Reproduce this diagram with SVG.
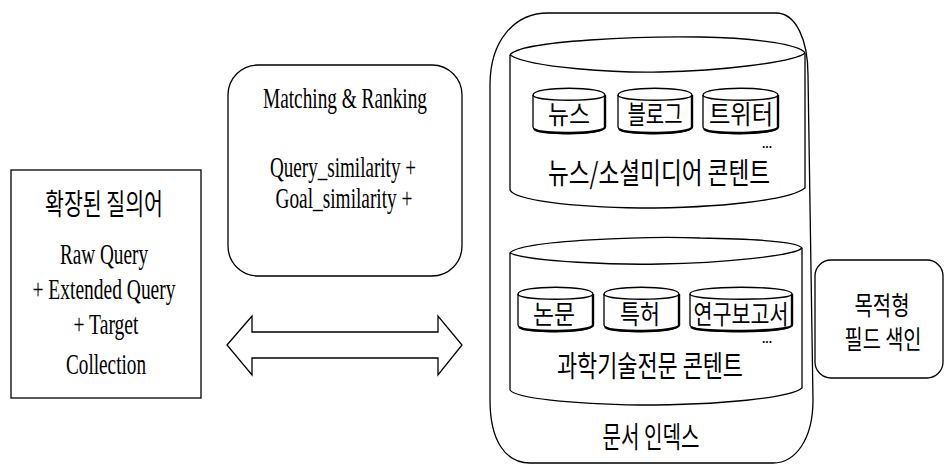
<svg xmlns="http://www.w3.org/2000/svg" width="945" height="464" viewBox="0 0 945 464">
  <style>
    .ln { fill: #ffffff; stroke: #000000; stroke-width: 1.3; }
    .nf { fill: none; stroke: #000000; stroke-width: 1.3; }
    .sh { fill: none; stroke: #000000; stroke-width: 2.4; }
    .en { font-family: "Liberation Serif", "Times New Roman", serif; font-size: 30px; fill: #000000; text-anchor: middle; }
    .ko { font-family: "Noto Sans CJK KR", "Noto Sans", sans-serif; font-size: 29px; fill: #000000; text-anchor: middle; }
    .ks { font-family: "Noto Sans CJK KR", "Noto Sans", sans-serif; font-size: 26px; fill: #000000; text-anchor: middle; }
    .dots { font-family: "Liberation Sans", Arial, sans-serif; font-size: 12px; font-weight: bold; fill: #000000; }
  </style>
  <rect x="0" y="0" width="945" height="464" fill="#ffffff"/>

  <!-- extended query box -->
  <g id="query">
    <rect class="ln" x="11" y="170" width="190" height="228"/>
    <text class="ko" x="104" y="215" font-size="31" textLength="118" lengthAdjust="spacingAndGlyphs">확장된 질의어</text>
    <text class="en" x="104" y="264" textLength="88" lengthAdjust="spacingAndGlyphs">Raw Query</text>
    <text class="en" x="104" y="299" textLength="143" lengthAdjust="spacingAndGlyphs">+ Extended Query</text>
    <text class="en" x="106" y="334" textLength="65" lengthAdjust="spacingAndGlyphs">+ Target</text>
    <text class="en" x="106" y="374" textLength="80" lengthAdjust="spacingAndGlyphs">Collection</text>
  </g>

  <!-- matching and ranking box -->
  <g id="matching">
    <rect class="ln" x="228" y="65" width="234" height="211" rx="30" ry="30"/>
    <text class="en" x="345" y="108" textLength="164" lengthAdjust="spacingAndGlyphs">Matching &amp; Ranking</text>
    <text class="en" x="343" y="177" textLength="146" lengthAdjust="spacingAndGlyphs">Query_similarity +</text>
    <text class="en" x="344" y="208" textLength="137" lengthAdjust="spacingAndGlyphs">Goal_similarity +</text>
  </g>

  <!-- connectors -->
  <g id="connectors">
    <path class="ln" d="M227,345 L252,316 L252,332 L438,332 L438,316 L462,345 L438,375 L438,358 L252,358 L252,375 Z"/>
  </g>

  <!-- document index container -->
  <g id="doc-index">
    <path class="ln" d="M548,13 L776,13 C796,13 808,40 808,75 L813,400 C813,440 795,463 773,463 L530,463 C505,463 490,440 490,400 L490,85 C490,40 515,13 548,13 Z"/>
    <text class="ko" x="651" y="448" textLength="97" lengthAdjust="spacingAndGlyphs">문서 인덱스</text>
  </g>

  <!-- news / social media store -->
  <g id="social-store">
    <path class="ln" d="M510,55 C520,40 650,36 700,37 C760,38 800,45 805,53 L805,188 C790,200 720,208 640,208 C570,207 515,200 510,190 Z"/>
    <path class="nf" d="M510,55 C530,68 620,73 660,72 C720,71 795,62 805,53"/>
    <text class="ko" x="659" y="184" textLength="222" lengthAdjust="spacingAndGlyphs">뉴스/소셜미디어 콘텐트</text>
    <text class="dots" x="762" y="148">...</text>
  </g>

  <g id="news">
    <path class="ln" d="M533,95 C533,86 605,86 605,95 L605,127 C605,136 533,136 533,127 Z"/>
    <path class="nf" d="M533,95 C533,102 605,102 605,95"/>
    <path class="sh" d="M605,95 L605,127 C605,134 540,135 534,129"/>
    <text class="ks" x="569" y="124" font-size="28" textLength="42" lengthAdjust="spacingAndGlyphs">뉴스</text>
  </g>
  <g id="blog">
    <path class="ln" d="M618,95 C618,86 692,86 692,95 L692,127 C692,136 618,136 618,127 Z"/>
    <path class="nf" d="M618,95 C618,102 692,102 692,95"/>
    <path class="sh" d="M692,95 L692,127 C692,134 625,135 619,129"/>
    <text class="ks" x="655" y="124" font-size="28" textLength="55" lengthAdjust="spacingAndGlyphs">블로그</text>
  </g>
  <g id="twitter">
    <path class="ln" d="M703,95 C703,86 778,86 778,95 L778,127 C778,136 703,136 703,127 Z"/>
    <path class="nf" d="M703,95 C703,102 778,102 778,95"/>
    <path class="sh" d="M778,95 L778,127 C778,134 710,135 704,129"/>
    <text class="ks" x="741" y="124" font-size="28" textLength="64" lengthAdjust="spacingAndGlyphs">트위터</text>
  </g>

  <!-- science and technology store -->
  <g id="science-store">
    <path class="ln" d="M510,253 C520,240 650,236 700,238 C760,239 798,242 802,248 L802,388 C790,398 720,405 640,405 C570,404 515,398 510,390 Z"/>
    <path class="nf" d="M510,253 C530,262 620,265 660,264 C720,263 795,256 802,248"/>
    <text class="ko" x="650" y="377" font-size="28" textLength="186" lengthAdjust="spacingAndGlyphs">과학기술전문 콘텐트</text>
    <text class="dots" x="762" y="343">...</text>
  </g>

  <g id="paper">
    <path class="ln" d="M518,294 C518,285 593,285 593,294 L593,325 C593,334 518,334 518,325 Z"/>
    <path class="nf" d="M518,294 C518,301 593,301 593,294"/>
    <path class="sh" d="M593,294 L593,325 C593,332 525,333 519,327"/>
    <text class="ks" x="554" y="324" font-size="28" textLength="42" lengthAdjust="spacingAndGlyphs">논문</text>
  </g>
  <g id="patent">
    <path class="ln" d="M604,294 C604,285 679,285 679,294 L679,325 C679,334 604,334 604,325 Z"/>
    <path class="nf" d="M604,294 C604,301 679,301 679,294"/>
    <path class="sh" d="M679,294 L679,325 C679,332 611,333 605,327"/>
    <text class="ks" x="640" y="324" font-size="28" textLength="40" lengthAdjust="spacingAndGlyphs">특허</text>
  </g>
  <g id="report">
    <path class="ln" d="M690,294 C690,285 792,285 792,294 L792,325 C792,334 690,334 690,325 Z"/>
    <path class="nf" d="M690,294 C690,301 792,301 792,294"/>
    <path class="sh" d="M792,294 L792,325 C792,332 697,333 691,327"/>
    <text class="ks" x="741" y="324" font-size="28" textLength="95" lengthAdjust="spacingAndGlyphs">연구보고서</text>
  </g>

  <!-- purpose-oriented field index -->
  <g id="field-index">
    <rect class="ln" x="815" y="260" width="128" height="118" rx="16" ry="16"/>
    <text class="ks" x="882" y="315" font-size="24" textLength="55" lengthAdjust="spacingAndGlyphs">목적형</text>
    <text class="ks" x="883" y="349" font-size="24" textLength="77" lengthAdjust="spacingAndGlyphs">필드 색인</text>
  </g>
</svg>
